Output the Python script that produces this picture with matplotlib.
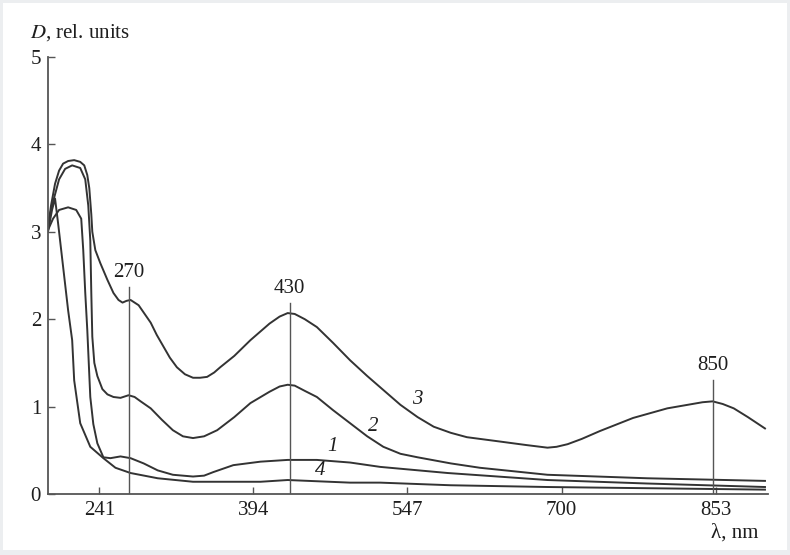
import matplotlib
matplotlib.use("Agg")
from matplotlib import pyplot as plt
from matplotlib.patches import Rectangle

# Spectra (wavelength in nm, optical density)
wl_1 = [190, 195, 201, 210, 218, 223, 225, 227, 229, 232, 235, 239, 245, 252,
        262, 272, 285, 299, 314, 334, 345, 354, 374, 401, 428, 457, 490, 520,
        587, 686, 785, 902]
d_1 = [3.02, 3.15, 3.25, 3.28, 3.25, 3.15, 2.79, 2.3, 1.88, 1.11, 0.8, 0.58,
       0.42, 0.41, 0.43, 0.41, 0.35, 0.27, 0.22, 0.20, 0.21, 0.25, 0.33, 0.37,
       0.39, 0.39, 0.36, 0.31, 0.24, 0.16, 0.12, 0.08]

wl_2 = [190, 194, 201, 207, 214, 222, 227, 230, 232, 233, 234, 236, 239, 244,
        249, 255, 262, 270, 276, 282, 292, 303, 314, 324, 334, 345, 358, 375,
        391, 410, 420, 428, 435, 445, 457, 473, 490, 507, 523, 540, 557, 590,
        619, 686, 785, 902]
d_2 = [3.08, 3.3, 3.6, 3.72, 3.76, 3.73, 3.6, 3.3, 2.9, 2.3, 1.8, 1.5, 1.35,
       1.2, 1.14, 1.11, 1.10, 1.13, 1.11, 1.06, 0.98, 0.85, 0.73, 0.66, 0.64,
       0.66, 0.73, 0.88, 1.04, 1.17, 1.23, 1.25, 1.24, 1.18, 1.11, 0.96, 0.81,
       0.66, 0.54, 0.46, 0.42, 0.35, 0.30, 0.22, 0.18, 0.15]

wl_3 = [190, 193, 197, 201, 205, 210, 216, 222, 226, 229, 231, 233, 234, 237,
        242, 249, 255, 260, 264, 268, 272, 276, 280, 286, 292, 298, 305, 311,
        318, 326, 334, 341, 348, 355, 361, 375, 391, 410, 420, 428, 435, 445,
        457, 473, 490, 507, 523, 540, 557, 573, 590, 606, 639, 665, 686, 695,
        706, 720, 738, 771, 805, 830, 840, 850, 860, 871, 885, 902]
d_3 = [3.05, 3.3, 3.55, 3.7, 3.78, 3.81, 3.82, 3.80, 3.76, 3.65, 3.5, 3.2,
       3.0, 2.79, 2.64, 2.45, 2.30, 2.22, 2.19, 2.21, 2.22, 2.19, 2.16, 2.06,
       1.96, 1.82, 1.68, 1.56, 1.45, 1.37, 1.33, 1.33, 1.34, 1.39, 1.45, 1.58,
       1.76, 1.95, 2.03, 2.07, 2.06, 2.0, 1.91, 1.73, 1.53, 1.35, 1.19, 1.02,
       0.88, 0.77, 0.70, 0.65, 0.60, 0.56, 0.53, 0.54, 0.57, 0.63, 0.72, 0.87,
       0.98, 1.03, 1.05, 1.06, 1.03, 0.98, 0.88, 0.75]

wl_4 = [190, 194, 197, 200, 205, 210, 214, 216, 222, 232, 245, 257, 272, 299,
        334, 401, 428, 490, 520, 590, 686, 902]
d_4 = [3.0, 3.25, 3.38, 3.1, 2.6, 2.1, 1.76, 1.3, 0.81, 0.54, 0.41, 0.30,
       0.24, 0.18, 0.14, 0.14, 0.16, 0.13, 0.13, 0.10, 0.08, 0.05]

curves = [("1", wl_1, d_1), ("2", wl_2, d_2), ("3", wl_3, d_3), ("4", wl_4, d_4)]
curve_label_pos = {"1": (473, 0.54), "2": (513, 0.77), "3": (557, 1.08), "4": (460, 0.27)}

peaks = [270, 430, 850]
peak_line_top = [2.37, 2.18, 1.30]

x_ticks = [241, 394, 547, 700, 853]
y_ticks = [0, 1, 2, 3, 4, 5]

plt.rcParams['font.family'] = ['Liberation Serif', 'DejaVu Serif']
plt.rcParams['mathtext.fontset'] = 'stix'

ink = '#1e1e1e'
fs = 15
fig = plt.figure(figsize=(7.9, 5.55), dpi=100, facecolor='#eceef0')
fig.patches.append(Rectangle((3 / 790, 5 / 555), 784 / 790, 547 / 555,
                             transform=fig.transFigure, facecolor='white',
                             edgecolor='none', zorder=-10))
ax = fig.add_axes([48 / 790, 61 / 555, 720 / 790, 437 / 555])
ax.set_zorder(1)
ax.set_facecolor('none')

for name, wl, d in curves:
    ax.plot(wl, d, color='#333333', lw=1.4, solid_joinstyle='round')
    lx, ly = curve_label_pos[name]
    ax.text(lx, ly, name, fontsize=fs, style='italic', color=ink,
            ha='center', va='center')

for p, top in zip(peaks, peak_line_top):
    ax.plot([p, p], [0, top], color='#555555', lw=1.0)
    ax.text(p, top + 0.17, str(p), fontsize=fs, color=ink,
            ha='center', va='center')

ax.set_xlim(190, 905)
ax.set_ylim(0, 5)
ax.set_xticks(x_ticks)
ax.set_yticks(y_ticks)
ax.tick_params(direction='in', length=5, width=1.0, colors='#555555',
               labelcolor=ink, labelsize=fs, pad=5)
for s in ['top', 'right']:
    ax.spines[s].set_visible(False)
for s in ['left', 'bottom']:
    ax.spines[s].set_color('#555555')
    ax.spines[s].set_linewidth(1.3)

fig.text(30 / 790, 1 - 33 / 555, r'$\mathit{D}$, rel. units', fontsize=fs,
         color=ink, ha='left', va='center')
fig.text(735 / 790, 1 - 533 / 555, 'λ, nm', fontsize=fs, color=ink,
         ha='center', va='center')

fig.savefig('out.png', dpi=100, facecolor=fig.get_facecolor())
